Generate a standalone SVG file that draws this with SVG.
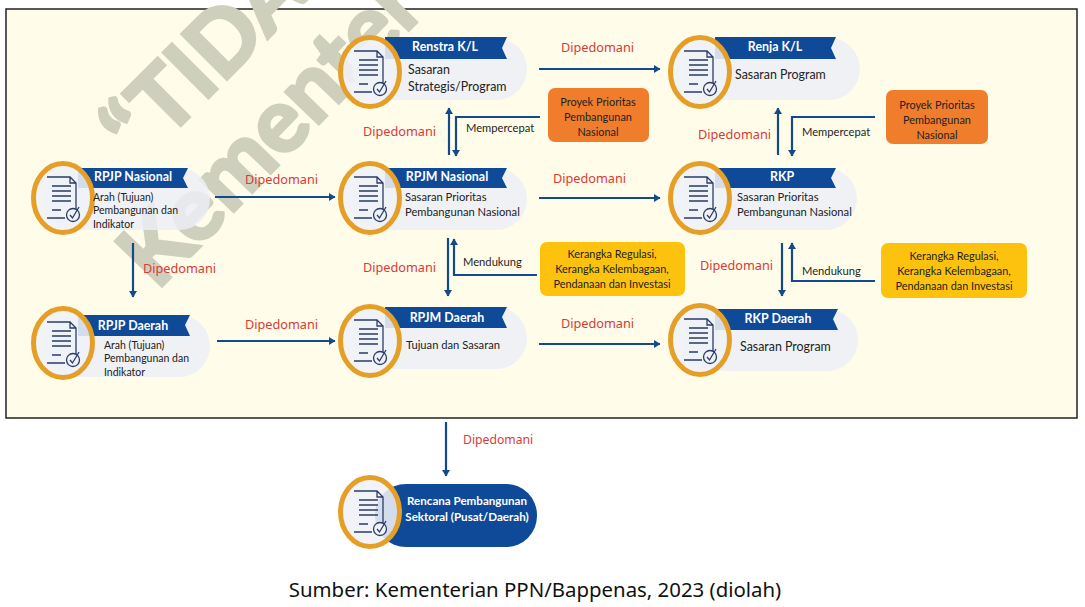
<svg xmlns="http://www.w3.org/2000/svg" width="1085" height="607" viewBox="0 0 1085 607">
<style>
.title{font-family:"Lato","Liberation Sans",sans-serif;font-weight:700;font-size:12.4px;fill:#fff;text-anchor:middle}
.body{font-family:"Lato","Liberation Sans",sans-serif;font-size:12.4px;fill:#222}
.body2{font-family:"Lato","Liberation Sans",sans-serif;font-size:11.2px;fill:#222}
.small{font-family:"Lato","Liberation Sans",sans-serif;font-size:10.5px;fill:#222}
.dip{font-family:"Noto Sans","Open Sans",sans-serif;font-size:12.7px;fill:#d83a38}
.lab{font-family:"Lato","Liberation Sans",sans-serif;font-size:11.2px;fill:#1d1d1d}
.box{font-family:"Lato","Liberation Sans",sans-serif;font-size:10.9px;fill:#222;text-anchor:middle}
.pill{fill:#eceef8;fill-opacity:.82}
.rib{fill:#0f4a98}
.ring{fill:#eff1f7;fill-opacity:.88;stroke:#e59f27;stroke-width:5}
.doc{fill:none;stroke:#2b3d66;stroke-width:1.3}
.con{fill:none;stroke:#124a8a;stroke-width:2.2}
.wm{font-family:"Lato","Liberation Sans",sans-serif;font-weight:700;fill:#cfcfbe;stroke:#cfcfbe;stroke-width:3.5}
.cap{font-family:"Lato","Liberation Sans",sans-serif;font-weight:700;font-size:11.6px;fill:#fff;text-anchor:middle}
</style>
<defs>
<marker id="ah" markerWidth="10" markerHeight="10" refX="6" refY="4" orient="auto" markerUnits="userSpaceOnUse"><path d="M0,0 L6.5,4 L0,8 Z" fill="#124a8a"/></marker>
<g id="icon">
<ellipse class="ring" cx="0" cy="0" rx="29.5" ry="34.5"/>
<path class="doc" d="M-16,-21 H7 L13,-15 V12 M2,20 H-16 Z M7,-21 V-15 H13"/>
<path class="doc" d="M-11,-12 H8 M-11,-7 H8 M-11,-2 H8 M-11,3 H8 M-11,12 H-2"/>
<circle cx="10" cy="17" r="6.5" fill="#eff1f7" stroke="#2b3d66" stroke-width="1.3"/>
<path class="doc" d="M7,17 L9.5,20 L16,9"/>
</g>
</defs>
<rect width="1085" height="607" fill="#fff"/>
<rect x="6" y="9" width="1071" height="409" fill="#fffde9" stroke="#222" stroke-width="1.5"/>
<g id="watermark">
<text class="wm" font-size="88" transform="translate(140,166) rotate(-45)">“<tspan dx="3">TIDA</tspan></text>
<text class="wm" font-size="89" transform="translate(157,291) rotate(-46)">Kementer</text>
</g>
<g id="connectors">
<path class="con" marker-end="url(#ah)" d="M215,197 H335"/>
<path class="con" marker-end="url(#ah)" d="M539,69 H660"/>
<path class="con" marker-end="url(#ah)" d="M539,198 H660"/>
<path class="con" marker-end="url(#ah)" d="M217,341 H335"/>
<path class="con" marker-end="url(#ah)" d="M539,344 H660"/>
<path class="con" marker-end="url(#ah)" d="M133,243 V297"/>
<path class="con" marker-end="url(#ah)" d="M449,155 V108"/>
<path class="con" marker-end="url(#ah)" d="M540,117 H456 V156"/>
<path class="con" marker-end="url(#ah)" d="M448,238 V296"/>
<path class="con" marker-end="url(#ah)" d="M537,275 H454 V239"/>
<path class="con" marker-end="url(#ah)" d="M778,155 V108"/>
<path class="con" marker-end="url(#ah)" d="M875,117 H792 V156"/>
<path class="con" marker-end="url(#ah)" d="M782,243 V296"/>
<path class="con" marker-end="url(#ah)" d="M875,281 H792 V243"/>
<path class="con" marker-end="url(#ah)" d="M446,422 V476"/>
</g>
<g id="edge-labels">
<text class="dip" x="561" y="52">Dipedomani</text>
<text class="dip" x="553" y="183">Dipedomani</text>
<text class="dip" x="245" y="184">Dipedomani</text>
<text class="dip" x="143" y="273">Dipedomani</text>
<text class="dip" x="363" y="136">Dipedomani</text>
<text class="dip" x="698" y="139">Dipedomani</text>
<text class="dip" x="363" y="272">Dipedomani</text>
<text class="dip" x="700" y="270">Dipedomani</text>
<text class="dip" x="245" y="329">Dipedomani</text>
<text class="dip" x="561" y="328">Dipedomani</text>
<text class="dip" x="463" y="444" style="font-size:12.2px">Dipedomani</text>
<text class="lab" x="466" y="132">Mempercepat</text>
<text class="lab" x="463" y="266">Mendukung</text>
<text class="lab" x="802" y="136">Mempercepat</text>
<text class="lab" x="802" y="275">Mendukung</text>
</g>
<g id="box-proyek-1"><rect x="548" y="88" width="101" height="54" rx="7" fill="#f07d2c"/><text class="box" x="598" y="106">Proyek Prioritas</text><text class="box" x="598" y="121">Pembangunan</text><text class="box" x="598" y="136">Nasional</text></g>
<g id="box-proyek-2"><rect x="886" y="90" width="102" height="54" rx="7" fill="#f07d2c"/><text class="box" x="937" y="109">Proyek Prioritas</text><text class="box" x="937" y="124">Pembangunan</text><text class="box" x="937" y="139">Nasional</text></g>
<g id="box-kerangka-1"><rect x="540" y="242" width="145" height="54" rx="7" fill="#fdc20d"/><text class="box" x="612" y="258">Kerangka Regulasi,</text><text class="box" x="612" y="273">Kerangka Kelembagaan,</text><text class="box" x="612" y="288">Pendanaan dan Investasi</text></g>
<g id="box-kerangka-2"><rect x="881" y="243" width="146" height="55" rx="7" fill="#fdc20d"/><text class="box" x="954" y="260">Kerangka Regulasi,</text><text class="box" x="954" y="275">Kerangka Kelembagaan,</text><text class="box" x="954" y="290">Pendanaan dan Investasi</text></g>
<g id="node-rpjp-nasional"><rect class="pill" x="45" y="168" width="165" height="62" rx="31"/><path class="rib" d="M78,168 H188 L183,178 L188,188 H78 Z"/><use href="#icon" x="63" y="198"/><text class="title" x="133" y="181">RPJP Nasional</text><text class="small" x="93" y="201">Arah (Tujuan)</text><text class="small" x="93" y="214">Pembangunan dan</text><text class="small" x="93" y="228">Indikator</text></g>
<g id="node-rpjp-daerah"><rect class="pill" x="45" y="315" width="165" height="62" rx="31"/><path class="rib" d="M78,315 H190 L185,325 L190,336 H78 Z"/><use href="#icon" x="63" y="343"/><text class="title" x="133" y="330">RPJP Daerah</text><text class="small" x="104" y="349">Arah (Tujuan)</text><text class="small" x="104" y="362">Pembangunan dan</text><text class="small" x="104" y="376">Indikator</text></g>
<g id="node-renstra"><rect class="pill" x="352" y="38" width="175" height="62" rx="31"/><path class="rib" d="M385,37 H507 L502,48 L507,59 H385 Z"/><use href="#icon" x="370" y="72"/><text class="title" x="445" y="51">Renstra K/L</text><text class="body" x="408" y="74">Sasaran</text><text class="body" x="408" y="91">Strategis/Program</text></g>
<g id="node-rpjm-nasional"><rect class="pill" x="352" y="168" width="175" height="62" rx="31"/><path class="rib" d="M385,168 H507 L502,178 L507,188 H385 Z"/><use href="#icon" x="370" y="198"/><text class="title" x="447" y="181">RPJM Nasional</text><text class="body2" x="405" y="201">Sasaran Prioritas</text><text class="body2" x="405" y="216">Pembangunan Nasional</text></g>
<g id="node-rpjm-daerah"><rect class="pill" x="352" y="307" width="175" height="62" rx="31"/><path class="rib" d="M385,307 H507 L502,317 L507,328 H385 Z"/><use href="#icon" x="370" y="341"/><text class="title" x="447" y="322">RPJM Daerah</text><text class="body2" x="406" y="349">Tujuan dan Sasaran</text></g>
<g id="node-renja"><rect class="pill" x="682" y="38" width="178" height="62" rx="31"/><path class="rib" d="M715,37 H836 L831,48 L836,59 H715 Z"/><use href="#icon" x="700" y="72"/><text class="title" x="775" y="51">Renja K/L</text><text class="body" x="735" y="79">Sasaran Program</text></g>
<g id="node-rkp"><rect class="pill" x="682" y="168" width="175" height="62" rx="31"/><path class="rib" d="M715,168 H836 L831,178 L836,188 H715 Z"/><use href="#icon" x="700" y="198"/><text class="title" x="782" y="181">RKP</text><text class="body2" x="737" y="201">Sasaran Prioritas</text><text class="body2" x="737" y="216">Pembangunan Nasional</text></g>
<g id="node-rkp-daerah"><rect class="pill" x="682" y="309" width="176" height="62" rx="31"/><path class="rib" d="M715,309 H838 L833,319 L838,330 H715 Z"/><use href="#icon" x="700" y="340"/><text class="title" x="778" y="323">RKP Daerah</text><text class="body" x="740" y="351">Sasaran Program</text></g>
<g id="node-rencana"><rect x="375" y="484" width="162" height="63" rx="31" fill="#0f4a98"/><use href="#icon" x="370" y="512"/><text class="cap" x="467" y="505">Rencana Pembangunan</text><text class="cap" x="467" y="521">Sektoral (Pusat/Daerah)</text></g>
<text id="caption" x="535" y="597" font-family="'Noto Sans','Open Sans',sans-serif" font-size="20.4" fill="#111" text-anchor="middle">Sumber: Kementerian PPN/Bappenas, 2023 (diolah)</text>
</svg>
